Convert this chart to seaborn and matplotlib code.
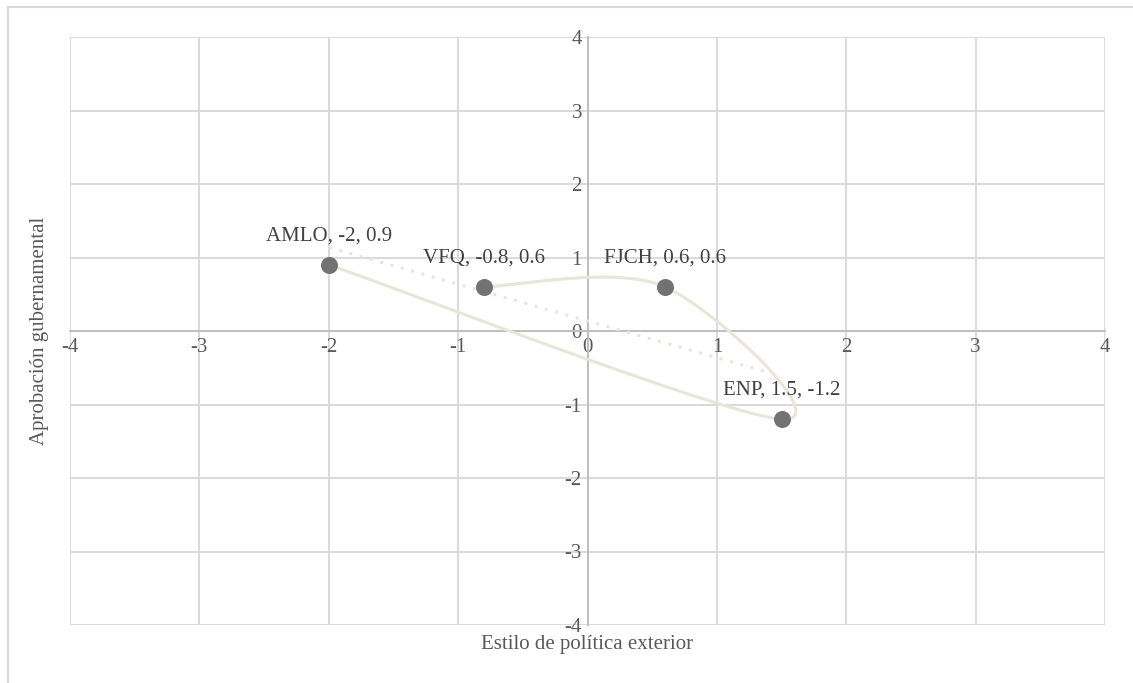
import numpy as np
import pandas as pd
import matplotlib
matplotlib.use("Agg")
import matplotlib.pyplot as plt
from matplotlib.patches import Rectangle
import seaborn as sns

# ---- data ----
names = ["AMLO", "ENP", "FJCH", "VFQ"]
x_vals = [-2.0, 1.5, 0.6, -0.8]
y_vals = [0.9, -1.2, 0.6, 0.6]
ticks = [-4, -3, -2, -1, 0, 1, 2, 3, 4]
x_title = "Estilo de política exterior"
y_title = "Aprobación gubernamental"

sns.set_theme(style="white")
plt.rcParams["font.family"] = ["Liberation Serif", "DejaVu Serif"]
plt.rcParams["axes.unicode_minus"] = False

FS = 15

df = pd.DataFrame({"name": names, "x": x_vals, "y": y_vals})

# Excel-like smoothed line (Bezier through points)
P = df[["x", "y"]].to_numpy()
n = len(P)
curve = []
for i in range(n - 1):
    p0 = P[i - 1] if i > 0 else P[i]
    p1, p2 = P[i], P[i + 1]
    p3 = P[i + 2] if i + 2 < n else P[i + 1]
    c1 = p1 + (p2 - p0) / 6.0
    c2 = p2 - (p3 - p1) / 6.0
    seg = np.linalg.norm(p2 - p1)
    for c, base in ((c1, p1), (c2, p2)):
        d = c - base
        if np.linalg.norm(d) > seg / 2:
            c[:] = base + d * (seg / 2) / np.linalg.norm(d)
    t = np.linspace(0, 1, 80)[:, None]
    b = (1 - t) ** 3 * p1 + 3 * (1 - t) ** 2 * t * c1 + 3 * (1 - t) * t ** 2 * c2 + t ** 3 * p2
    curve.append(b if i == 0 else b[1:])
curve = np.vstack(curve)
curve_df = pd.DataFrame({"x": curve[:, 0], "y": curve[:, 1]})

# linear trendline
m, q = np.polyfit(df["x"], df["y"], 1)
tx = np.array([df["x"].min(), df["x"].max()])
trend_df = pd.DataFrame({"x": tx, "y": m * tx + q})

fig = plt.figure(figsize=(11.33, 6.83), dpi=100)
ax = fig.add_axes([70 / 1133, 1 - 625 / 683, (1105 - 70) / 1133, (625 - 37) / 683])

# outer chart border
fig.patches.append(Rectangle((8 / 1133, -0.05), 1.1, 1 - 7 / 683 + 0.05, transform=fig.transFigure,
                             fill=False, edgecolor="#D9D9D9", linewidth=1.5, zorder=0))

line_col = "#E8E6D9"
sns.lineplot(data=curve_df, x="x", y="y", sort=False, estimator=None, ax=ax,
             color=line_col, linewidth=2.2, zorder=3)
sns.lineplot(data=trend_df, x="x", y="y", sort=False, estimator=None, ax=ax,
             color=line_col, linewidth=2.2, linestyle=(0, (1, 2.5)), zorder=3)
sns.scatterplot(data=df, x="x", y="y", ax=ax, color="#727272", s=150, edgecolor="#727272",
                linewidth=0, zorder=5)

for nm, xv, yv in zip(names, x_vals, y_vals):
    ax.annotate(f"{nm}, {xv:g}, {yv:g}", (xv, yv), xytext=(0, 21), textcoords="offset points",
                ha="center", va="center", fontsize=FS, color="#404040", zorder=6)

ax.set_xlim(-4, 4)
ax.set_ylim(-4, 4)
ax.set_xticks(ticks)
ax.set_yticks(ticks)
ax.grid(True, color="#D9D9D9", linewidth=1.4)
ax.set_axisbelow(True)

for s in ["top", "right"]:
    ax.spines[s].set_visible(False)
ax.spines["left"].set_position("zero")
ax.spines["bottom"].set_position("zero")
ax.spines["left"].set_color("#BFBFBF")
ax.spines["bottom"].set_color("#BFBFBF")
ax.spines["left"].set_linewidth(1.4)
ax.spines["bottom"].set_linewidth(1.4)
ax.tick_params(axis="both", length=0, labelsize=FS, labelcolor="#595959")
ax.tick_params(axis="x", pad=5)
ax.tick_params(axis="y", pad=4)

ax.set_xlabel("")
ax.set_ylabel("")
fig.text((70 + 1105) / 2 / 1133, 1 - 645 / 683, x_title, ha="center", va="center",
         fontsize=FS, color="#595959")
fig.text(40 / 1133, 1 - 331 / 683, y_title, ha="center", va="center", rotation=90,
         fontsize=FS, color="#595959")

fig.savefig("out.png", dpi=100)
